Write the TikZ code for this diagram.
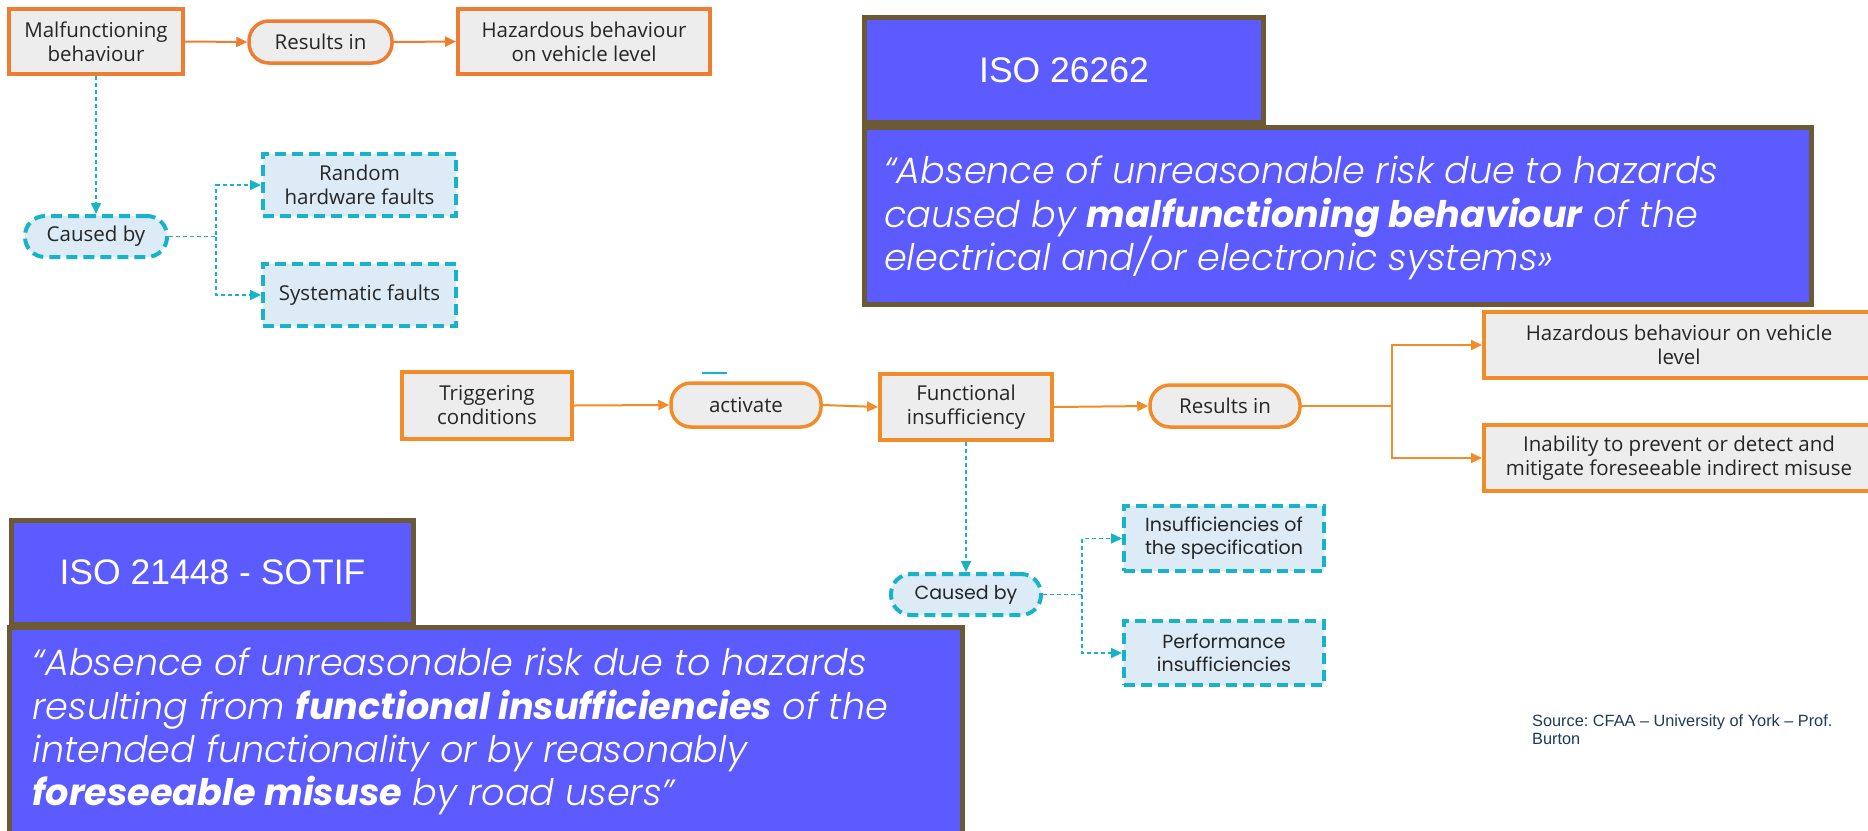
\documentclass[tikz,border=0pt]{standalone}
\usepackage{fontspec}
\setmainfont{Open Sans}
\IfFontExistsTF{Poppins Light Italic}
  {\newfontfamily\quotefont{Poppins}[ItalicFont={Poppins Light Italic},BoldItalicFont={Poppins Bold Italic}]}
  {\newfontfamily\quotefont{Poppins}}
\newfontfamily\headfont{Liberation Sans}
\newfontfamily\geofont{Poppins}
\usetikzlibrary{arrows.meta}

\definecolor{orgA}{HTML}{ED7D31}
\definecolor{orgB}{HTML}{F28C28}
\definecolor{boxgray}{HTML}{EDEDED}
\definecolor{cyanline}{HTML}{17B3CB}
\definecolor{cyanfill}{HTML}{DDEBF7}
\definecolor{isoblue}{HTML}{5B5BFF}
\definecolor{isoframe}{HTML}{6B5A35}
\definecolor{srcblue}{HTML}{1F3A5A}
\definecolor{txt}{HTML}{262626}

\tikzset{
  flowtext/.style={font=\fontsize{20.5}{24}\selectfont, text=txt, align=center, inner sep=0pt},
  geotext/.style={font=\geofont\fontsize{19}{23}\selectfont, text=txt, align=center, inner sep=0pt},
  obox/.style={rectangle, draw=#1, line width=4pt, fill=boxgray, flowtext},
  obox/.default=orgA,
  opill/.style={obox=#1, line width=3.5pt, rounded corners=20pt},
  opill/.default=orgA,
  cbox/.style={rectangle, draw=cyanline, line width=4pt, dash pattern=on 11pt off 6pt, fill=cyanfill, flowtext},
  cpill/.style={cbox, rounded corners=20pt},
  oconn/.style={draw=#1, line width=2pt, -{Triangle[length=11pt,width=10pt]}},
  oconn/.default=orgA,
  cconn/.style={draw=cyanline, line width=1.6pt, dash pattern=on 4pt off 3pt, -{Triangle[length=11pt,width=10pt]}},
  isobox/.style={rectangle, draw=isoframe, line width=5pt, fill=isoblue, inner sep=0pt},
  isohead/.style={font=\headfont\fontsize{35.5}{40}\selectfont, text=white, inner sep=0pt},
  quoteline/.style={anchor=base west, inner sep=0pt, text=white, font=\quotefont\itshape\fontsize{36.6}{43}\selectfont},
  srcline/.style={anchor=base west, inner sep=0pt, text=srcblue, font=\headfont\frenchspacing\fontsize{16.3}{18}\selectfont},
}

\begin{document}
\begin{tikzpicture}[x=1pt, y=-1pt]
\useasboundingbox (0,0) rectangle (1868,830);
\clip (0,0) rectangle (1868,830);
\fill[white] (0,0) rectangle (1868,830);

% ---------- ISO 26262 flow (malfunctioning behaviour) ----------
\node[obox, minimum width=174pt, minimum height=65pt] (malf) at (96,41.5) {Malfunctioning\\behaviour};
\node[opill, minimum width=143pt, minimum height=42pt] (res1) at (320.5,42) {Results in};
\node[obox, minimum width=252pt, minimum height=65pt] (haz1) at (584,41.5) {Hazardous behaviour\\on vehicle level};
\node[cpill, minimum width=142pt, minimum height=41pt] (caused1) at (96,236.5) {Caused by};
\node[cbox, minimum width=193pt, minimum height=62pt] (random) at (359.5,185) {Random\\hardware faults};
\node[cbox, minimum width=193pt, minimum height=62pt] (system) at (359.5,295) {Systematic faults};
\coordinate (j1) at (216,236.5);

\draw[oconn] (malf.east) -- (res1.west);
\draw[oconn] (res1.east) -- (haz1.west);
\draw[cconn] (malf.south) -- (caused1.north);
\draw[cconn] (caused1.east) -- (j1) |- (random.west);
\draw[cconn] (j1) |- (system.west);

% ---------- ISO 26262 definition ----------
\node[isobox, minimum width=399pt, minimum height=105pt] (iso1h) at (1064,70) {};
\node[isohead] at (iso1h.center) {ISO 26262};
\node[isobox, minimum width=947pt, minimum height=177pt] (iso1q) at (1338,216) {};
\node[quoteline] (q1a) at (884,183) {“Absence of unreasonable risk due to hazards};
\node[quoteline] (q1b) at (884,227) {caused by \textbf{malfunctioning behaviour} of the};
\node[quoteline] (q1c) at (884,270) {electrical and/or electronic systems»};

% ---------- SOTIF flow (functional insufficiency) ----------
\node[obox=orgB, minimum width=170pt, minimum height=67pt] (trig) at (487,405.5) {Triggering\\conditions};
\node[opill=orgB, minimum width=150pt, minimum height=44pt] (act) at (746,405) {activate};
\node[obox=orgB, minimum width=172pt, minimum height=66pt] (func) at (966,407) {Functional\\insufficiency};
\node[opill=orgB, minimum width=150pt, minimum height=42pt] (res2) at (1225,406) {Results in};
\node[obox=orgB, minimum width=390pt, minimum height=66pt] (haz2) at (1679,345) {Hazardous behaviour on vehicle\\level};
\node[obox=orgB, minimum width=390pt, minimum height=66pt] (inab) at (1679,458) {Inability to prevent or detect and\\mitigate foreseeable indirect misuse};
\node[cpill, geotext, minimum width=150pt, minimum height=41pt] (caused2) at (966,594.5) {Caused by};
\node[cbox, geotext, minimum width=200pt, minimum height=65pt] (insuf) at (1224,538.5) {Insufficiencies of\\the specification};
\node[cbox, geotext, minimum width=200pt, minimum height=64pt] (perf) at (1224,653) {Performance\\insufficiencies};
\coordinate (j2) at (1392,406);
\coordinate (j3) at (1082,594.5);

\draw[cyanline, line width=1.5pt] (702,373) -- (727,373);
\draw[oconn=orgB] (trig.east) -- (act.west);
\draw[oconn=orgB] (act.east) -- (func.west);
\draw[oconn=orgB] (func.east) -- (res2.west);
\draw[orgB, line width=2pt] (res2.east) -- (j2);
\draw[oconn=orgB] (j2) |- (haz2.west);
\draw[oconn=orgB] (j2) |- (inab.west);
\draw[cconn] (func.south) -- (caused2.north);
\draw[cconn] (caused2.east) -- (j3) |- (insuf.west);
\draw[cconn] (j3) |- (perf.west);

% ---------- ISO 21448 definition ----------
\node[isobox, minimum width=402pt, minimum height=104pt] (iso2h) at (212.5,572.5) {};
\node[isohead] at (iso2h.center) {ISO 21448 - SOTIF};
\node[isobox, minimum width=953pt, minimum height=240pt] (iso2q) at (485.5,747) {};
\node[quoteline] (q2a) at (32.5,675) {“Absence of unreasonable risk due to hazards};
\node[quoteline] (q2b) at (32.5,719) {resulting from \textbf{functional insufficiencies} of the};
\node[quoteline] (q2c) at (32.5,762) {intended functionality or by reasonably};
\node[quoteline] (q2d) at (32.5,805) {\textbf{foreseeable misuse} by road users”};

% ---------- source note ----------
\node[srcline] (src1) at (1532,726) {Source: CFAA – University of York – Prof.};
\node[srcline] (src2) at (1532,744) {Burton};
\end{tikzpicture}
\end{document}
